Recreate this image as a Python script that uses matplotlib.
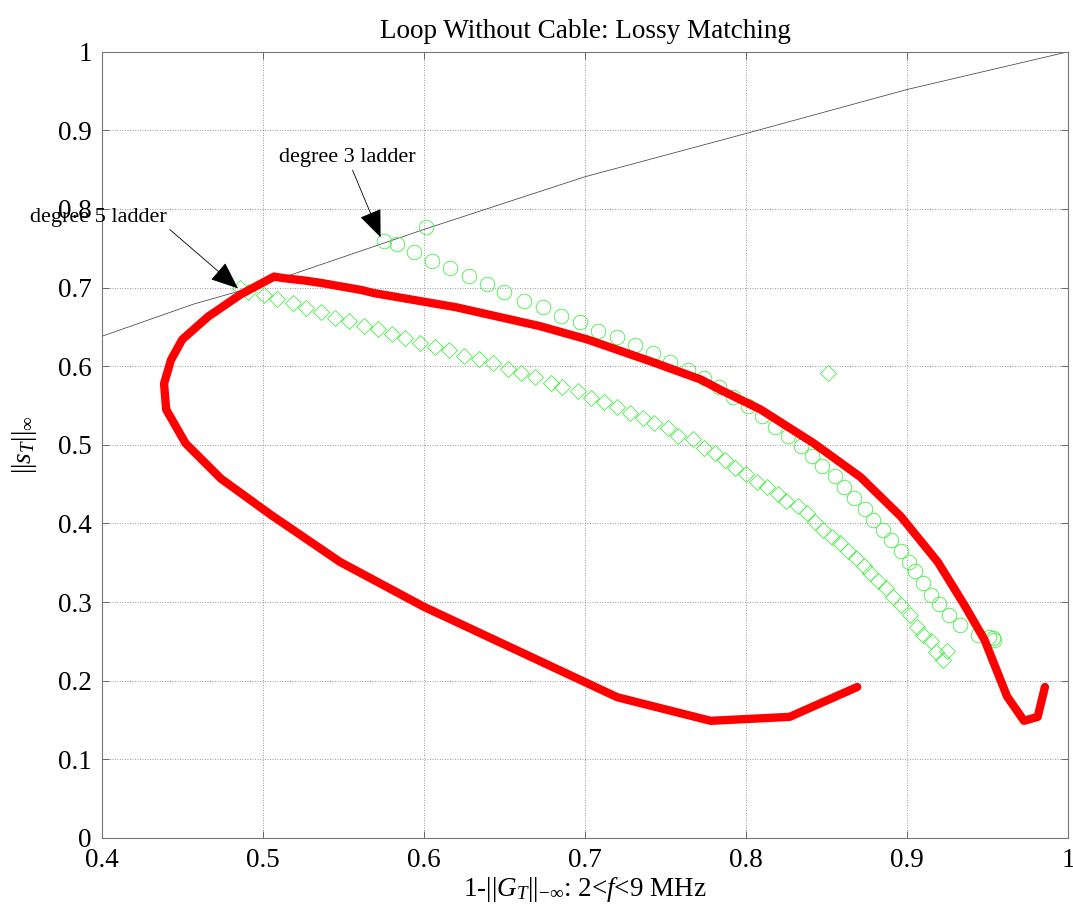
import matplotlib
matplotlib.use('Agg')
import matplotlib.pyplot as plt

plt.rcParams['font.family'] = ['Liberation Serif', 'DejaVu Serif']
plt.rcParams['mathtext.fontset'] = 'custom'
plt.rcParams['mathtext.rm'] = 'Liberation Serif'
plt.rcParams['mathtext.it'] = 'Liberation Serif:italic'
plt.rcParams['mathtext.cal'] = 'Liberation Serif'

# unmatched bound: 1 - ||S_L|| line
bound_x = [0.40, 0.457, 0.50, 0.60, 0.70, 0.80, 0.90, 1.00]
bound_y = [0.638, 0.679, 0.704, 0.774, 0.841, 0.896, 0.952, 1.00]

# lossy matching curve
lossy_x = [0.869, 0.827, 0.778, 0.720, 0.600, 0.548, 0.505, 0.474, 0.452, 0.440,
           0.4387, 0.443, 0.450, 0.466, 0.486, 0.507, 0.513, 0.526, 0.536, 0.561,
           0.569, 0.620, 0.672, 0.7015, 0.741, 0.772, 0.784, 0.809, 0.842, 0.871,
           0.896, 0.919, 0.935, 0.948, 0.962, 0.9725, 0.981, 0.9855]
lossy_y = [0.192, 0.154, 0.149, 0.179, 0.294, 0.351, 0.411, 0.457, 0.502, 0.545,
           0.578, 0.608, 0.634, 0.663, 0.691, 0.714, 0.712, 0.709, 0.706, 0.697,
           0.693, 0.675, 0.651, 0.634, 0.606, 0.583, 0.570, 0.545, 0.502, 0.459,
           0.409, 0.351, 0.298, 0.252, 0.180, 0.149, 0.154, 0.192]

# degree 3 ladder designs
deg3_x = [0.575, 0.583, 0.601, 0.594, 0.605, 0.616, 0.628, 0.639, 0.650, 0.662,
          0.674, 0.685, 0.697, 0.708, 0.720, 0.731, 0.742, 0.753, 0.764, 0.774,
          0.783, 0.792, 0.801, 0.810, 0.818, 0.826, 0.834, 0.841, 0.847, 0.855,
          0.861, 0.867, 0.874, 0.879, 0.885, 0.890, 0.896, 0.901, 0.905, 0.910,
          0.915, 0.920, 0.926, 0.933, 0.944, 0.951, 0.953, 0.954]
deg3_y = [0.759, 0.756, 0.777, 0.745, 0.734, 0.725, 0.715, 0.705, 0.694, 0.683,
          0.675, 0.664, 0.656, 0.645, 0.637, 0.627, 0.617, 0.606, 0.595, 0.585,
          0.574, 0.561, 0.549, 0.537, 0.523, 0.511, 0.498, 0.486, 0.473, 0.460,
          0.447, 0.433, 0.419, 0.405, 0.392, 0.379, 0.365, 0.351, 0.339, 0.324,
          0.309, 0.297, 0.284, 0.271, 0.258, 0.255, 0.254, 0.252]

# degree 5 ladder designs
deg5_x = [0.486, 0.491, 0.501, 0.509, 0.519, 0.527, 0.536, 0.545, 0.5535, 0.5626,
          0.5717, 0.5803, 0.5884, 0.5977, 0.6067, 0.6158, 0.625, 0.634, 0.643, 0.652,
          0.660, 0.669, 0.679, 0.686, 0.6955, 0.7035, 0.712, 0.720, 0.728, 0.736,
          0.743, 0.7515, 0.758, 0.767, 0.774, 0.7805, 0.787, 0.793, 0.800, 0.807,
          0.813, 0.820, 0.825, 0.832, 0.838, 0.843, 0.848, 0.8535, 0.858, 0.863,
          0.868, 0.873, 0.877, 0.882, 0.887, 0.891, 0.896, 0.902, 0.906, 0.910,
          0.915, 0.918, 0.922, 0.925, 0.851]
deg5_y = [0.699, 0.695, 0.691, 0.685, 0.680, 0.674, 0.669, 0.661, 0.658, 0.651,
          0.647, 0.641, 0.636, 0.630, 0.624, 0.621, 0.613, 0.609, 0.604, 0.596,
          0.592, 0.586, 0.579, 0.574, 0.568, 0.559, 0.555, 0.5475, 0.540, 0.534,
          0.528, 0.521, 0.5115, 0.507, 0.496, 0.489, 0.481, 0.471, 0.463, 0.453,
          0.446, 0.438, 0.428, 0.422, 0.413, 0.402, 0.392, 0.383, 0.375, 0.365,
          0.356, 0.346, 0.337, 0.327, 0.3175, 0.307, 0.296, 0.284, 0.268, 0.258,
          0.250, 0.237, 0.2265, 0.238, 0.592]

xticks = [0.4, 0.5, 0.6, 0.7, 0.8, 0.9, 1.0]
xtick_labels = ['0.4', '0.5', '0.6', '0.7', '0.8', '0.9', '1']
yticks = [0, 0.1, 0.2, 0.3, 0.4, 0.5, 0.6, 0.7, 0.8, 0.9, 1.0]
ytick_labels = ['0', '0.1', '0.2', '0.3', '0.4', '0.5', '0.6', '0.7', '0.8', '0.9', '1']

fig = plt.figure(figsize=(10.73, 9.14), dpi=100)
ax = fig.add_axes([0.0948, 0.0832, 0.9008, 0.8602])

green = '#44ee44'
ax.plot(bound_x, bound_y, color='#444444', lw=0.55)
ax.plot(deg3_x, deg3_y, 'o', ms=10.5, mfc='none', mec=green, mew=0.6)
ax.plot(deg5_x, deg5_y, 'D', ms=8.6, mfc='none', mec=green, mew=0.6)
ax.plot(lossy_x, lossy_y, color='red', lw=6, solid_capstyle='round',
        solid_joinstyle='round')

ax.set_xlim(0.4, 1.0)
ax.set_ylim(0, 1.0)
ax.set_xticks(xticks)
ax.set_xticklabels(xtick_labels)
ax.set_yticks(yticks)
ax.set_yticklabels(ytick_labels)
ax.tick_params(direction='in', length=5, width=0.6, color='#555555',
               labelsize=19.5, top=True, right=True, pad=7)
ax.grid(True, linestyle=(0, (1, 2)), color='#777777', lw=0.6)
for s in ax.spines.values():
    s.set_color('#777777')
    s.set_linewidth(0.8)

ax.set_title('Loop Without Cable: Lossy Matching', fontsize=19.5, pad=10)
ax.set_xlabel(r'1-$||G_T||_{-\infty}$: 2<$f$<9 MHz', fontsize=19.5, labelpad=2)
ax.set_ylabel(r'$||s_T||_\infty$', fontsize=19.5, labelpad=14)

arrow_style = dict(arrowstyle='-|>,head_length=1.1,head_width=0.45',
                   color='#555555', lw=0.6, shrinkA=0, shrinkB=0,
                   fc='black', ec='black')
ax.annotate('degree 3 ladder', xy=(0.5731, 0.764), xytext=(0.5525, 0.853),
            fontsize=16, ha='center', va='bottom', arrowprops=arrow_style,
            annotation_clip=False)
ax.annotate('degree 5 ladder', xy=(0.4846, 0.699), xytext=(0.4405, 0.777),
            fontsize=16, ha='right', va='bottom',
            arrowprops=dict(arrow_style, relpos=(1.0, 0.0)),
            annotation_clip=False)

fig.savefig('out.png', dpi=100)
